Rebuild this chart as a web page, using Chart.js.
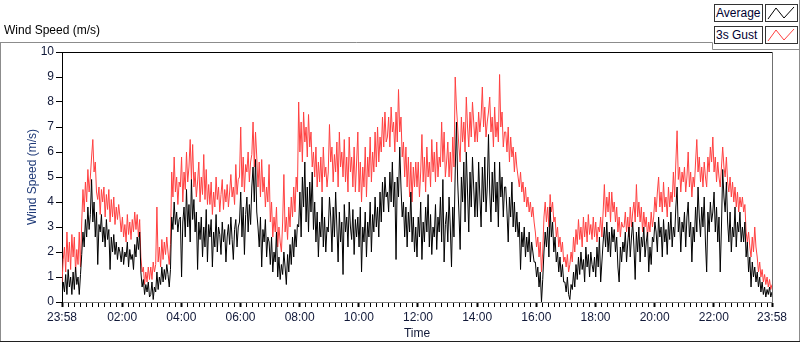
<!DOCTYPE html>
<html>
<head>
<meta charset="utf-8">
<script src="https://cdn.jsdelivr.net/npm/chart.js@4"></script>
<style>
    body { margin: 0; background: #fff; font-family: "Liberation Sans", Arial, sans-serif; }
    #wrap { position: relative; width: 800px; height: 342px; overflow: hidden; }
    #chart { position: absolute; left: 0; top: 0; }
    .title { position: absolute; left: 4px; top: 23px; font-size: 12px; color: #000; }
    .lgText { position: absolute; left: 714px; width: 46px; height: 16px; border: 1px solid #333;
              background: #fff; font-size: 12px; line-height: 16px; padding-left: 1px; color: #000030; }
    .lgSwatch { position: absolute; left: 765px; width: 31px; height: 16px; border: 1px solid #333; background: #fff; }
</style>
</head>
<body>
<div id="wrap">
    <canvas id="chart" width="800" height="342"></canvas>
    <div class="title">Wind Speed (m/s)</div>
    <div class="lgText" style="top:4px">Average</div>
    <div class="lgSwatch" style="top:4px"><svg width="31" height="16"><polyline points="2,14 10,3 18,13 28,2" fill="none" stroke="#000" stroke-width="1"/></svg></div>
    <div class="lgText" style="top:26px">3s Gust</div>
    <div class="lgSwatch" style="top:26px"><svg width="31" height="16"><polyline points="2,14 10,3 18,13 28,2" fill="none" stroke="#ff4040" stroke-width="1"/></svg></div>
</div>
<script>
// sample spacing (minutes since 23:58)
const stepMinutes = 2.5;

// average wind speed (m/s), one row per hour
const avgSpeed = [
    0.2, 0.8, 0.4, 1.1, 0.3, 1.3, 0.6, 1.0, 0.3, 1.2, 0.5, 1.4, 0.7, 1.0, 0.3, 1.1, 1.9, 2.8, 2.2, 3.3, 2.6, 3.8, 2.9, 3.5,
    4.9, 3.2, 4.0, 2.6, 3.6, 1.5, 3.1, 2.8, 3.5, 2.4, 3.0, 2.2, 3.3, 2.5, 2.9, 1.3, 2.6, 2.0, 2.7, 1.9, 2.4, 1.7, 2.2, 2.0,
    1.6, 2.2, 1.5, 2.0, 1.8, 2.4, 1.4, 2.1, 1.7, 1.9, 1.3, 2.3, 1.8, 2.6, 2.1, 2.8, 1.2, 0.6, 0.9, 0.3, 0.7, 0.4, 0.8, 0.2,
    0.3, 0.8, 0.1, 0.6, 0.4, 1.2, 0.5, 1.0, 0.7, 1.4, 0.8, 1.3, 0.9, 1.5, 1.1, 0.6, 1.3, 3.4, 2.9, 4.0, 3.1, 3.6, 2.8, 3.3,
    3.4, 1.0, 3.2, 3.8, 2.6, 4.5, 3.0, 3.9, 2.4, 4.9, 3.3, 4.1, 2.8, 3.6, 1.3, 3.2, 2.5, 3.4, 1.8, 3.0, 2.2, 3.7, 1.6, 3.1,
    2.6, 3.3, 1.4, 2.8, 2.2, 3.5, 2.0, 3.0, 2.7, 1.9, 3.2, 2.4, 2.9, 1.6, 2.6, 3.1, 2.3, 3.4, 2.5, 1.7, 2.9, 3.3, 2.2, 3.0,
    3.2, 4.4, 2.6, 3.8, 1.9, 3.5, 4.2, 2.8, 3.9, 3.1, 4.6, 5.4, 4.0, 5.7, 3.6, 3.0, 2.2, 3.4, 1.4, 2.9, 2.4, 3.3, 1.8, 2.6,
    2.4, 1.5, 2.6, 1.2, 2.0, 1.6, 2.8, 1.0, 1.8, 0.9, 1.5, 1.1, 2.0, 1.4, 0.7, 1.9, 1.2, 2.3, 1.5, 2.6, 1.8, 2.9, 2.2, 3.1,
    3.0, 4.4, 2.6, 5.0, 3.8, 5.6, 3.2, 4.6, 2.8, 4.8, 3.6, 5.2, 2.9, 4.0, 2.4, 3.6, 1.8, 3.2, 2.6, 4.2, 2.2, 3.4, 2.0, 3.0,
    2.8, 4.2, 3.4, 2.0, 3.8, 2.6, 4.4, 3.0, 1.6, 3.6, 2.4, 3.2, 1.1, 3.9, 2.8, 3.4, 2.2, 4.0, 3.0, 2.5, 3.7, 1.9, 3.3, 2.6,
    3.4, 2.2, 3.8, 1.2, 3.0, 2.4, 3.6, 1.8, 3.2, 2.6, 4.0, 2.0, 3.5, 2.8, 4.2, 3.0, 3.8, 2.6, 4.4, 3.2, 4.8, 3.6, 5.0, 4.2,
    4.4, 3.6, 5.2, 4.0, 5.6, 3.8, 4.8, 1.7, 5.0, 4.2, 6.2, 4.6, 3.4, 4.0, 2.6, 3.8, 2.2, 3.6, 2.8, 4.4, 2.4, 3.4, 2.0, 3.0,
    1.8, 3.4, 2.6, 4.0, 1.7, 3.2, 2.4, 3.8, 2.8, 4.3, 2.2, 3.5, 1.9, 3.0, 2.6, 3.9, 2.1, 3.4, 2.8, 4.2, 2.4, 4.9, 1.6, 3.1,
    3.6, 2.4, 4.2, 3.0, 1.4, 3.8, 2.6, 5.2, 7.2, 4.8, 3.6, 2.1, 5.0, 4.0, 5.6, 3.2, 6.0, 4.4, 2.8, 5.2, 3.8, 5.8, 4.6, 3.4,
    4.8, 3.4, 5.6, 4.2, 3.0, 5.4, 4.0, 5.8, 3.6, 4.6, 6.7, 4.4, 3.2, 5.2, 4.0, 5.6, 3.6, 4.8, 3.0, 5.6, 4.2, 5.0, 3.4, 4.6,
    4.6, 3.6, 2.4, 4.2, 3.4, 4.8, 3.0, 4.0, 2.8, 3.6, 2.6, 3.2, 1.3, 2.8, 2.2, 3.0, 1.8, 2.6, 2.0, 2.8, 1.6, 2.4, 2.0, 1.6,
    1.6, 1.0, 1.4, 0.6, 1.2, 0.0, 0.9, 2.0, 2.8, 2.2, 3.0, 1.8, 3.8, 2.6, 3.2, 2.0, 2.6, 1.6, 2.0, 1.2, 1.8, 1.0, 1.5, 0.8,
    0.8, 0.4, 1.0, 0.3, 0.1, 0.7, 0.5, 1.2, 0.6, 1.5, 0.9, 1.8, 1.1, 2.0, 1.3, 1.7, 0.8, 2.2, 1.4, 1.9, 1.0, 2.0, 1.5, 1.2,
    1.8, 1.0, 2.2, 1.4, 2.6, 0.8, 1.6, 2.4, 3.0, 2.2, 3.2, 2.0, 2.8, 1.8, 3.0, 2.4, 2.9, 2.0, 2.6, 1.4, 0.8, 2.2, 1.6, 2.4,
    2.0, 2.8, 1.6, 2.4, 3.0, 1.8, 2.6, 3.2, 2.2, 0.9, 2.8, 2.0, 3.0, 1.6, 2.6, 2.2, 3.0, 1.8, 2.4, 2.8, 1.2, 2.2, 1.5, 2.6,
    2.4, 3.2, 2.8, 2.0, 3.4, 2.6, 3.0, 1.8, 3.3, 2.4, 2.9, 1.9, 3.2, 2.5, 3.6, 2.2, 3.0, 2.6, 3.8, 4.6, 2.8, 3.4, 2.0, 3.2,
    2.8, 3.6, 2.2, 3.4, 4.0, 2.6, 3.2, 1.6, 3.0, 2.4, 3.8, 2.8, 4.6, 3.4, 2.6, 3.8, 3.0, 4.2, 2.4, 1.2, 3.6, 2.8, 4.0, 3.2,
    3.6, 4.4, 2.8, 3.8, 2.4, 3.4, 1.2, 3.0, 5.3, 4.2, 3.6, 4.8, 3.2, 2.4, 3.6, 2.0, 3.0, 2.6, 3.8, 2.2, 3.2, 2.8, 3.6, 2.4,
    3.0, 2.4, 3.2, 1.8, 2.4, 1.2, 1.8, 0.6, 1.6, 1.0, 1.4, 0.8, 1.2, 0.6, 1.0, 0.4, 0.8, 0.3, 0.6, 0.2, 0.5, 0.3, 0.6, 0.2,
    0.4
];

// 3 second gust (m/s)
const gustSpeed = [
    0.8, 1.7, 2.2, 1.2, 2.8, 1.6, 2.4, 1.3, 2.7, 1.8, 2.6, 1.2, 2.1, 1.5, 2.8, 1.4, 3.2, 4.5, 3.6, 4.8, 4.0, 5.3, 4.4, 5.0,
    5.8, 6.5, 5.2, 5.6, 4.4, 4.1, 4.6, 3.5, 4.5, 4.0, 4.6, 3.4, 4.3, 3.7, 4.5, 3.2, 4.1, 3.4, 4.2, 3.1, 3.8, 3.3, 3.9, 3.4,
    2.8, 3.4, 2.6, 3.1, 2.4, 3.5, 2.7, 3.2, 2.5, 3.3, 2.8, 3.6, 2.9, 3.5, 2.6, 3.3, 1.8, 1.2, 1.4, 0.7, 1.2, 0.8, 1.4, 0.9,
    1.4, 0.9, 1.6, 1.2, 1.5, 3.8, 1.6, 2.2, 1.4, 2.5, 1.7, 2.4, 1.9, 2.6, 2.0, 1.5, 2.3, 5.2, 4.2, 5.8, 4.4, 5.0, 3.9, 4.8,
    4.6, 5.8, 4.0, 5.2, 4.5, 6.0, 4.8, 5.4, 6.5, 4.9, 6.3, 4.6, 5.2, 4.2, 4.8, 5.6, 4.0, 5.0, 4.3, 5.9, 4.1, 5.3, 3.9, 4.7,
    3.9, 4.8, 3.5, 4.4, 3.8, 5.0, 4.1, 4.6, 3.6, 4.3, 4.9, 3.7, 4.5, 4.0, 4.7, 3.8, 4.4, 5.1, 4.2, 4.6, 3.9, 5.5, 4.3, 4.9,
    5.0, 7.0, 4.6, 5.8, 4.4, 5.5, 5.2, 6.0, 4.8, 5.6, 5.9, 7.2, 5.4, 6.8, 5.8, 4.6, 5.6, 4.2, 5.7, 4.4, 5.0, 3.8, 4.6, 4.0,
    5.5, 3.2, 4.0, 2.6, 3.4, 2.8, 3.8, 2.2, 3.0, 2.4, 2.0, 3.2, 5.1, 2.8, 3.4, 2.5, 3.8, 3.0, 4.2, 3.4, 4.6, 3.6, 5.0, 4.4,
    8.0, 6.0, 7.2, 5.6, 7.6, 6.4, 7.0, 5.8, 7.5, 6.2, 6.8, 5.4, 6.0, 5.0, 6.2, 4.6, 5.6, 4.8, 5.8, 4.4, 6.2, 5.0, 5.4, 4.6,
    5.2, 7.1, 5.6, 6.2, 4.8, 5.9, 5.2, 6.4, 4.6, 6.8, 5.4, 6.0, 5.0, 6.5, 4.8, 5.8, 4.4, 6.6, 5.2, 5.8, 4.6, 6.2, 4.4, 5.6,
    6.8, 4.4, 5.6, 4.0, 5.4, 4.6, 6.2, 4.2, 5.8, 5.0, 6.6, 4.8, 6.0, 5.2, 6.8, 5.4, 7.0, 5.6, 6.6, 6.0, 7.4, 6.2, 7.6, 6.4,
    6.6, 7.4, 6.2, 7.8, 6.8, 7.2, 6.0, 7.6, 6.4, 8.5, 6.8, 7.4, 5.8, 6.4, 5.0, 6.2, 4.6, 5.8, 4.2, 5.6, 4.0, 5.4, 4.6, 5.6,
    4.6, 5.6, 4.2, 5.2, 6.7, 4.8, 5.8, 4.4, 6.2, 5.0, 5.6, 4.6, 6.5, 5.2, 6.0, 4.8, 6.4, 5.0, 5.8, 5.4, 7.2, 5.6, 6.8, 5.0,
    5.6, 6.4, 5.0, 6.0, 4.8, 6.6, 5.4, 9.0, 7.8, 7.0, 6.2, 5.6, 7.4, 6.4, 7.2, 6.0, 8.2, 7.0, 6.2, 7.6, 6.6, 8.0, 7.2, 6.4,
    7.2, 6.4, 7.6, 6.8, 7.4, 8.6, 7.0, 7.8, 6.6, 7.2, 7.6, 8.2, 6.8, 7.4, 6.2, 7.8, 6.6, 7.2, 6.4, 9.1, 7.0, 7.6, 6.2, 6.8,
    6.8, 6.0, 7.0, 5.6, 6.6, 5.8, 6.2, 5.2, 6.0, 5.4, 5.0, 4.6, 5.2, 4.4, 4.8, 4.0, 4.6, 3.8, 4.2, 3.6, 4.0, 3.4, 3.8, 3.2,
    2.8, 2.2, 2.6, 1.8, 2.4, 1.2, 2.0, 3.4, 4.0, 3.2, 3.8, 3.0, 4.3, 3.6, 4.0, 3.2, 3.4, 2.6, 3.0, 2.2, 2.6, 2.0, 2.4, 1.6,
    1.8, 1.4, 1.9, 1.2, 1.5, 2.0, 1.6, 2.6, 2.0, 2.9, 2.3, 3.3, 2.5, 3.0, 2.2, 3.4, 2.6, 3.2, 2.4, 3.5, 2.7, 3.1, 2.5, 3.4,
    2.6, 3.2, 2.4, 3.0, 2.8, 3.4, 2.6, 3.6, 4.7, 3.4, 4.2, 3.6, 4.4, 3.2, 4.4, 3.6, 4.0, 3.2, 3.8, 2.8, 3.4, 2.6, 3.2, 3.0,
    3.0, 3.6, 2.8, 3.4, 2.6, 3.8, 3.0, 3.6, 4.0, 3.2, 4.7, 3.4, 4.0, 3.2, 3.8, 2.8, 3.6, 3.0, 3.4, 2.6, 3.2, 2.8, 3.6, 3.0,
    3.4, 4.2, 3.6, 4.4, 5.0, 3.8, 4.4, 3.6, 4.8, 3.8, 4.2, 3.4, 4.6, 3.8, 4.4, 4.0, 5.2, 4.2, 5.6, 6.85, 4.9, 5.4, 4.4, 5.2,
    4.8, 5.4, 4.4, 5.0, 6.0, 4.6, 5.2, 4.2, 5.0, 4.6, 5.6, 6.5, 5.2, 5.8, 4.8, 5.4, 4.6, 5.6, 5.0, 4.6, 5.8, 5.2, 6.2, 5.6,
    6.6, 5.2, 5.8, 4.8, 5.6, 5.0, 4.6, 5.4, 6.2, 5.4, 5.0, 5.8, 4.8, 4.4, 5.0, 4.2, 4.8, 4.0, 4.6, 3.8, 4.4, 3.6, 4.2, 3.8,
    4.2, 3.6, 3.9, 2.8, 2.4, 2.8, 2.2, 1.8, 2.6, 2.0, 3.0, 2.2, 1.8, 1.2, 1.6, 1.0, 1.3, 0.8, 1.1, 0.7, 1.0, 0.6, 0.9, 0.5,
    0.7
];

// x axis labels (minutes since 23:58)
const timeTickValues = [0, 122, 242, 362, 482, 602, 722, 842, 962, 1082, 1202, 1322, 1440];
const timeTickLabels = ['23:58', '02:00', '04:00', '06:00', '08:00', '10:00', '12:00',
                        '14:00', '16:00', '18:00', '20:00', '22:00', '23:58'];
const speedTicks = [0, 1, 2, 3, 4, 5, 6, 7, 8, 9, 10];

const toPoints = arr => arr.map((v, i) => ({ x: i * stepMinutes, y: v }));

// minor ticks every 12 minutes between the labelled ones
const minorTicks = [];
for (let i = 0; i < timeTickValues.length - 1; i++) {
    const a = timeTickValues[i], b = timeTickValues[i + 1];
    for (let k = 1; k < 10; k++) {
        minorTicks.push(i === 0 ? b - 12 * k : a + 12 * k);
    }
}
const allTicks = timeTickValues.concat(minorTicks).sort((a, b) => a - b);
const majorSet = new Set(timeTickValues);

const tickFont = { family: 'Liberation Sans', size: 12 };

// outer panel + plot frame
const framePlugin = {
    id: 'frame',
    afterDraw(chart) {
        const c = chart.ctx, a = chart.chartArea;
        c.save();
        c.lineWidth = 1;
        c.strokeStyle = '#8c8c8c';
        c.beginPath();
        c.moveTo(0, 42.5); c.lineTo(712.5, 42.5); c.lineTo(712.5, 49.5); c.lineTo(799.5, 49.5);
        c.moveTo(0.5, 42); c.lineTo(0.5, 342);
        c.moveTo(799.5, 0); c.lineTo(799.5, 342);
        c.stroke();
        c.strokeStyle = '#202020';
        c.beginPath();
        c.moveTo(0, 341.5); c.lineTo(800, 341.5);
        c.stroke();
        // plot area top / right
        c.strokeStyle = '#000';
        c.beginPath();
        c.moveTo(a.left, a.top + 0.5); c.lineTo(a.right, a.top + 0.5);
        c.stroke();
        c.strokeStyle = '#707070';
        c.beginPath();
        c.moveTo(a.right + 0.5, a.top); c.lineTo(a.right + 0.5, a.bottom);
        c.stroke();
        c.restore();
    }
};

const ctx = document.getElementById('chart').getContext('2d');
const myChart = new Chart(ctx, {
    type: 'line',
    data: {
        datasets: [{
            label: 'Average',
            data: toPoints(avgSpeed),
            borderColor: '#000000',
            borderWidth: 1,
            pointRadius: 0,
            fill: false
        }, {
            label: '3s Gust',
            data: toPoints(gustSpeed),
            borderColor: '#ff4040',
            borderWidth: 1,
            pointRadius: 0,
            fill: false
        }]
    },
    options: {
        responsive: false,
        animation: false,
        layout: { padding: { top: 52, right: 28, left: 0, bottom: 0 } },
        plugins: { legend: { display: false }, tooltip: { enabled: false } },
        scales: {
            x: {
                type: 'linear',
                min: 0,
                max: 1440,
                afterFit: s => { s.height = 40; },
                afterBuildTicks: s => { s.ticks = allTicks.map(v => ({ value: v })); },
                ticks: {
                    autoSkip: false,
                    maxRotation: 0,
                    padding: 3,
                    color: '#101838',
                    font: tickFont,
                    callback: v => majorSet.has(v) ? timeTickLabels[timeTickValues.indexOf(v)] : ''
                },
                grid: {
                    drawOnChartArea: false,
                    tickLength: 5,
                    tickColor: '#000',
                    tickWidth: c => (c.tick && majorSet.has(c.tick.value)) ? 2 : 1
                },
                border: { color: '#808080' },
                title: { display: true, text: 'Time', color: '#101838', font: tickFont, padding: { top: 0, bottom: 1 } }
            },
            y: {
                min: 0,
                max: 10,
                afterFit: s => { s.width = 62; },
                afterBuildTicks: s => { s.ticks = speedTicks.map(v => ({ value: v })); },
                ticks: { padding: 2, color: '#101838', font: tickFont },
                grid: { drawOnChartArea: false, tickLength: 6, tickColor: '#000' },
                border: { color: '#000' },
                title: { display: true, text: 'Wind Speed (m/s)', color: '#1f3a78', font: tickFont, padding: { top: 25, bottom: 0 } }
            }
        }
    },
    plugins: [framePlugin]
});
</script>
</body>
</html>
